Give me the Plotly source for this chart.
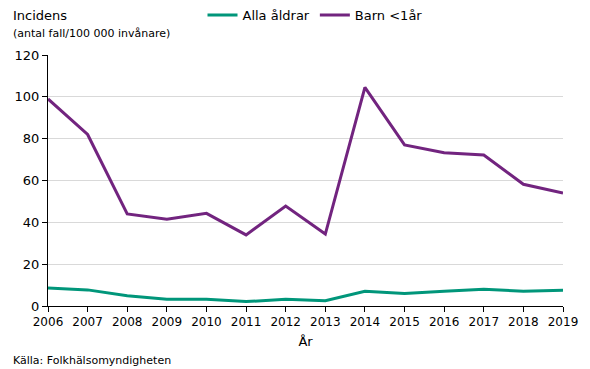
import plotly.graph_objects as go

years = list(range(2006, 2020))
alla_aldrar = [8.6, 7.7, 4.9, 3.2, 3.2, 2.1, 3.2, 2.5, 7.0, 6.0, 7.0, 8.0, 7.1, 7.5]
barn_under_1 = [99.0, 82.0, 44.0, 41.5, 44.3, 34.0, 47.8, 34.4, 104.5, 77.0, 73.3, 72.2, 58.2, 54.0]
y_ticks = [0, 20, 40, 60, 80, 100, 120]

FONT = "Verdana, DejaVu Sans, sans-serif"

fig = go.Figure()
fig.add_trace(go.Scatter(x=years, y=alla_aldrar, mode="lines", name="Alla åldrar",
                         line=dict(color="#00967a", width=3)))
fig.add_trace(go.Scatter(x=years, y=barn_under_1, mode="lines", name="Barn <1år",
                         line=dict(color="#72247f", width=3)))

L, R, T, B = 48, 19, 55, 63
W, H = 590, 369

fig.update_layout(
    width=W, height=H,
    margin=dict(l=L, r=R, t=T, b=B),
    paper_bgcolor="white", plot_bgcolor="white",
    font=dict(family=FONT, size=12, color="black"),
    showlegend=True,
    legend=dict(orientation="h", x=0.3, xanchor="left", y=1.0, yref="container",
                yanchor="top", font=dict(size=13), itemwidth=30,
                bgcolor="rgba(0,0,0,0)"),
    xaxis=dict(range=[2006, 2019], tickmode="array", tickvals=years,
               ticks="outside", ticklen=5, tickcolor="black",
               showline=True, linecolor="black", linewidth=1,
               showgrid=False, zeroline=False,
               title=dict(text="År", font=dict(size=13), standoff=8),
               tickfont=dict(size=12)),
    yaxis=dict(range=[0, 120], tickmode="array", tickvals=y_ticks,
               ticks="outside", ticklen=5, tickcolor="black",
               showline=True, linecolor="black", linewidth=1,
               showgrid=True, gridcolor="#d9d9d9", gridwidth=1,
               zeroline=False, tickfont=dict(size=13)),
)

plot_w = W - L - R
plot_h = H - T - B
def px(xp):
    return (xp - L) / plot_w
def py(yp):
    return (H - B - yp) / plot_h

fig.add_annotation(text="Incidens", x=px(10), y=py(16), xref="paper", yref="paper",
                   xanchor="left", yanchor="middle", showarrow=False, font=dict(size=13))
fig.add_annotation(text="(antal fall/100 000 invånare)", x=px(10), y=py(33), xref="paper",
                   yref="paper", xanchor="left", yanchor="middle", showarrow=False,
                   font=dict(size=11))
fig.add_annotation(text="Källa: Folkhälsomyndigheten", x=px(10), y=py(360), xref="paper",
                   yref="paper", xanchor="left", yanchor="middle", showarrow=False,
                   font=dict(size=11))

fig.write_html("out.html", config={"displayModeBar": False},
               post_script="document.body.style.margin='0';document.body.style.padding='0';")
